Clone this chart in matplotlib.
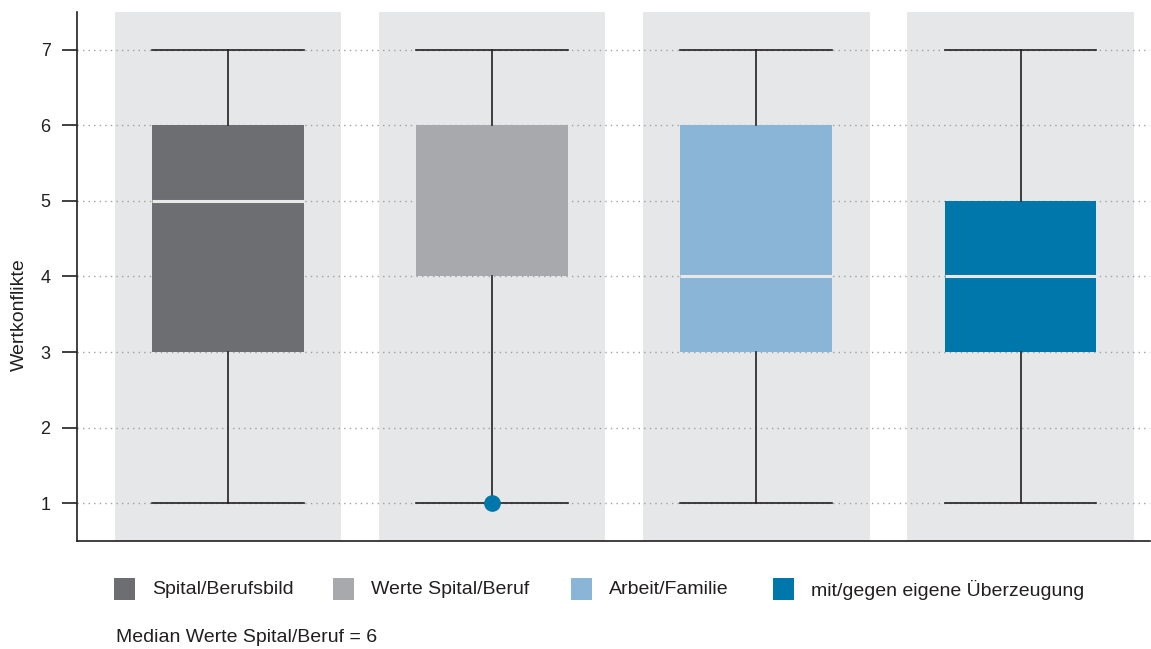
import matplotlib

matplotlib.use('Agg')
import matplotlib.pyplot as plt
from matplotlib.patches import Rectangle

plt.rcParams['font.family'] = ['Liberation Sans', 'DejaVu Sans']

# Data
categories = ['Spital/Berufsbild', 'Werte Spital/Beruf', 'Arbeit/Familie',
              'mit/gegen eigene Überzeugung']
whislo = [1, 1, 1, 1]
q1 = [3, 4, 3, 3]
medians = [5, 6, 4, 4]
q3 = [6, 6, 6, 5]
whishi = [7, 7, 7, 7]
fliers = [[], [1], [], []]
colors = ['#6d6e71', '#a7a9ac', '#8ab5d6', '#0077aa']
yticks = [1, 2, 3, 4, 5, 6, 7]
note = 'Median Werte Spital/Beruf = 6'

W, H = 1151, 649
fig = plt.figure(figsize=(W / 100, H / 100), dpi=100, facecolor='white')
ax = fig.add_axes([77 / W, (H - 541) / H, (1150 - 77) / W, (541 - 12) / H])

positions = list(range(1, len(categories) + 1))

# grey background bands behind each box
for p in positions:
    ax.axvspan(p - 0.429, p + 0.429, color='#e6e7e8', zorder=0, lw=0)

stats = []
for i, name in enumerate(categories):
    stats.append(dict(label=name, whislo=whislo[i], q1=q1[i], med=medians[i],
                      q3=q3[i], whishi=whishi[i], fliers=fliers[i]))

bp = ax.bxp(stats, positions=positions, widths=0.575, patch_artist=True,
            showfliers=True, zorder=3,
            boxprops=dict(linewidth=0),
            whiskerprops=dict(color='#231f20', linewidth=1.2),
            capprops=dict(color='#231f20', linewidth=1.2),
            medianprops=dict(color='#e8e8e8', linewidth=2.2),
            flierprops=dict(marker='o', markersize=11, markerfacecolor='#0077aa',
                            markeredgecolor='#0077aa'),
            capwidths=0.575)
for patch, c in zip(bp['boxes'], colors):
    patch.set_facecolor(c)
    patch.set_edgecolor(c)
# fliers on top
for f in bp['fliers']:
    f.set_zorder(5)
# median line hidden where it equals the box top
for m, med, top in zip(bp['medians'], medians, q3):
    if med == top:
        m.set_visible(False)

ax.set_xlim(0.429, 4.49)
ax.set_ylim(0.5, 7.5)
ax.set_yticks(yticks)
ax.set_xticks([])
ax.yaxis.grid(True, linestyle=(0, (1, 3)), color='#a0a0a0', linewidth=1.0, zorder=1)
ax.set_axisbelow(True)
ax.tick_params(axis='y', length=11, width=1.2, color='#231f20', pad=8,
               labelsize=13, labelcolor='#231f20')
for lbl in ax.get_yticklabels():
    lbl.set_verticalalignment('center_baseline')
for side in ['top', 'right']:
    ax.spines[side].set_visible(False)
for side in ['left', 'bottom']:
    ax.spines[side].set_color('#231f20')
    ax.spines[side].set_linewidth(1.2)
ax.set_ylabel('Wertkonflikte', fontsize=14, color='#231f20')
ax.yaxis.set_label_coords(-0.046, 0.427)

# legend drawn below the plot
handle_x = [114, 333, 571, 773]
for hx, c, name in zip(handle_x, colors, categories):
    fig.patches.append(Rectangle((hx / W, (H - 600) / H), 21 / W, 22 / H,
                                 transform=fig.transFigure, facecolor=c,
                                 edgecolor='none'))
    fig.text((hx + 38) / W, (H - 590) / H, name, fontsize=14, color='#231f20',
             va='center', ha='left')

fig.text(116 / W, (H - 638) / H, note, fontsize=14, color='#231f20',
         va='center', ha='left')

fig.savefig('out.png', dpi=100, facecolor='white')
